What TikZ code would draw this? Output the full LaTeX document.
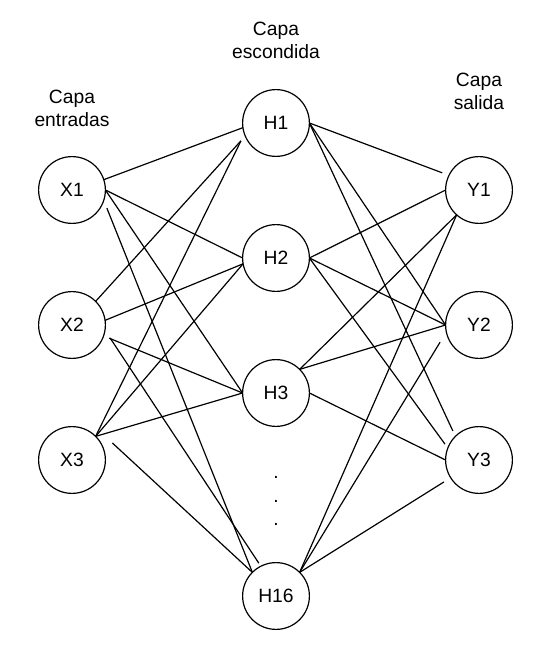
\documentclass[tikz,border=0pt]{standalone}
\usepackage{fontspec}
\setmainfont{Liberation Sans}
\usetikzlibrary{positioning}

\begin{document}
\begin{tikzpicture}[
    node distance=1.705cm,
    neuron/.style={draw, circle, line width=0.85pt, minimum size=1.67cm, inner sep=0pt, outer sep=0pt, font=\fontsize{13.7}{16.4}\selectfont},
    layer/.style={align=center, inner sep=0pt, outer sep=0pt, font=\fontsize{13.7}{16.4}\selectfont},
    link/.style={line width=0.85pt}
]
\useasboundingbox (0,0) rectangle (13.775,-16.175);
\node[neuron] (X1) at (1.8,-4.75) {X1};
\node[neuron, below=of X1] (X2) {X2};
\node[neuron, below=of X2] (X3) {X3};
\node[neuron] (H1) at (6.9,-3.075) {H1};
\node[neuron, below=of H1] (H2) {H2};
\node[neuron, below=of H2] (H3) {H3};
\node[neuron, below=3.405cm of H3] (H16) {H16};
\node[neuron] (Y1) at (11.975,-4.75) {Y1};
\node[neuron, below=of Y1] (Y2) {Y2};
\node[neuron, below=of Y2] (Y3) {Y3};
\node[layer, above=0.75cm of X1] (capaX) {Capa\\entradas};
\node[layer, above=0.775cm of H1] (capaH) {Capa\\escondida};
\node[layer, above=1.175cm of Y1] (capaY) {Capa\\salida};
\node[layer] (dots) at (6.9,-12.525) {.\\.\\.};
\coordinate (X3gap) at ([shift={(0.175,0.425)}]X3.east);
\draw[link] (X1.18) -- (H1.188);
\draw[link] (X1.east) -- (H2.west);
\draw[link] (X1.east) -- (H3.west);
\draw[link, shorten <=0.21cm] (X1.-18) -- (H16.135);
\draw[link, shorten >=0.16cm] (X2.45) -- (H1.203);
\draw[link] (X2.8) -- (H2.190);
\draw[link, shorten <=0.15cm] (X2.-19) -- (H3.west);
\draw[link, shorten <=0.23cm, shorten >=0.09cm] (X2.-9) -- (H16.117);
\draw[link, shorten >=0.2cm] (X3.45) -- (H1.199);
\draw[link] (X3.45) -- (H2.190);
\draw[link] (X3.45) -- (H3.west);
\draw[link] (X3gap) -- (H16.135);
\draw[link, shorten >=0.18cm] (H1.east) -- (Y1.154);
\draw[link] (H1.east) -- (Y2.west);
\draw[link, shorten >=0.15cm] (H1.east) -- (Y3.135);
\draw[link] (H2.east) -- (Y1.west);
\draw[link] (H2.east) -- (Y2.west);
\draw[link, shorten >=0.12cm] (H2.east) -- (Y3.159);
\draw[link] (H3.45) -- (Y1.228);
\draw[link] (H3.45) -- (Y2.west);
\draw[link] (H3.east) -- (Y3.west);
\draw[link] (H16.45) -- (Y1.228);
\draw[link, shorten >=0.3cm] (H16.45) -- (Y2.192);
\draw[link, shorten >=0.2cm] (H16.45) -- (Y3.212);
\end{tikzpicture}
\end{document}
